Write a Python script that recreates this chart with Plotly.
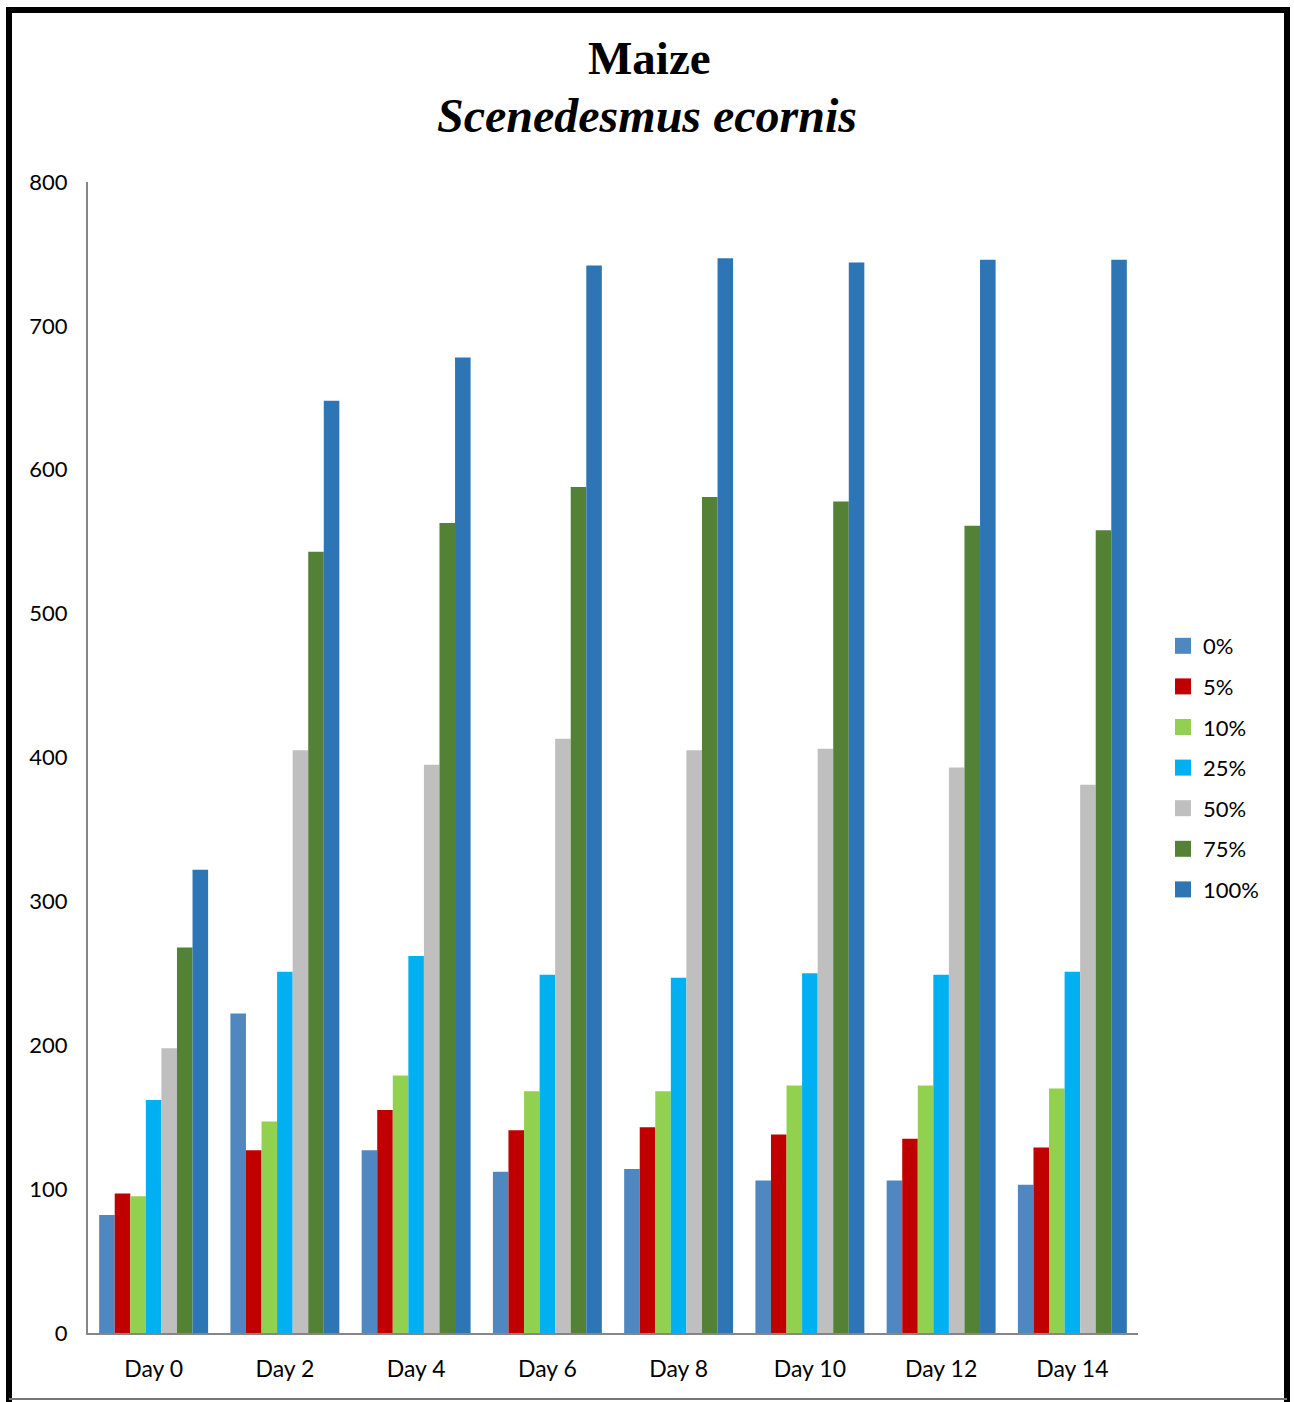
import plotly.graph_objects as go

# Sampling days and treatment concentrations
days = ["Day 0", "Day 2", "Day 4", "Day 6", "Day 8", "Day 10", "Day 12", "Day 14"]
treatments = ["0%", "5%", "10%", "25%", "50%", "75%", "100%"]

# Measured values per treatment, one entry per day
v0 = [82, 222, 127, 112, 114, 106, 106, 103]
v5 = [97, 127, 155, 141, 143, 138, 135, 129]
v10 = [95, 147, 179, 168, 168, 172, 172, 170]
v25 = [162, 251, 262, 249, 247, 250, 249, 251]
v50 = [198, 405, 395, 413, 405, 406, 393, 381]
v75 = [268, 543, 563, 588, 581, 578, 561, 558]
v100 = [322, 648, 678, 742, 747, 744, 746, 746]

series = [v0, v5, v10, v25, v50, v75, v100]
colors = ["#4F88C0", "#C00000", "#92D050", "#00B0F0", "#BFBFBF", "#538135", "#2E75B6"]

tick_vals = [0, 100, 200, 300, 400, 500, 600, 700, 800]

W, H = 1294, 1402
L, R, T, B = 88, 1138, 182, 1333

fig = go.Figure()
for name, vals, col in zip(treatments, series, colors):
    fig.add_trace(go.Bar(
        x=days, y=vals, name=name, legendgroup=name, showlegend=False,
        marker=dict(color=col, line=dict(width=0)),
    ))
# legend entries with larger square swatches
for name, col in zip(treatments, colors):
    fig.add_trace(go.Scatter(
        x=[None], y=[None], mode="markers", name=name, legendgroup=name,
        marker=dict(symbol="square", size=17, color=col, line=dict(width=0)),
    ))


def px_x(p):
    return (p - L) / (R - L)


def px_y(p):
    return (B - p) / (B - T)


shapes = [
    # outer frame
    dict(type="line", xref="paper", yref="paper", x0=px_x(9), x1=px_x(9),
         y0=px_y(7), y1=px_y(1410), line=dict(color="black", width=6)),
    dict(type="line", xref="paper", yref="paper", x0=px_x(6), x1=px_x(1290),
         y0=px_y(10), y1=px_y(10), line=dict(color="black", width=6)),
    dict(type="line", xref="paper", yref="paper", x0=px_x(1287), x1=px_x(1287),
         y0=px_y(7), y1=px_y(1410), line=dict(color="black", width=6)),
    dict(type="line", xref="paper", yref="paper", x0=px_x(9), x1=px_x(1287),
         y0=px_y(1399), y1=px_y(1399), line=dict(color="#777777", width=2)),
]

annotations = [
    dict(text="<b>Maize</b>", xref="paper", yref="paper", x=px_x(649), y=px_y(58),
         xanchor="center", yanchor="middle", showarrow=False,
         font=dict(family="Liberation Serif", size=47, color="black")),
    dict(text="<b><i>Scenedesmus ecornis</i></b>", xref="paper", yref="paper",
         x=px_x(647), y=px_y(116), xanchor="center", yanchor="middle", showarrow=False,
         font=dict(family="Liberation Serif", size=48, color="black")),
]

fig.update_layout(
    width=W, height=H,
    margin=dict(l=L, r=W - R, t=T, b=H - B, pad=0),
    paper_bgcolor="white", plot_bgcolor="white",
    barmode="group", bargap=0.17, bargroupgap=0,
    font=dict(family="Lato", size=22, color="black"),
    showlegend=True,
    legend=dict(x=px_x(1163), y=px_y(768), xanchor="left", yanchor="middle",
                font=dict(family="Lato", size=22), tracegroupgap=9,
                itemwidth=30, bgcolor="rgba(0,0,0,0)"),
    shapes=shapes, annotations=annotations,
)
fig.update_xaxes(showline=True, linecolor="#868686", linewidth=2, ticks="",
                 showgrid=False, tickfont=dict(size=23), ticklabelstandoff=14)
fig.update_yaxes(range=[0, 800], tickvals=tick_vals, showline=True, linecolor="#868686",
                 linewidth=2, ticks="", showgrid=False, zeroline=False,
                 tickfont=dict(size=22), ticklabelstandoff=14)

fig.write_html("out.html")
